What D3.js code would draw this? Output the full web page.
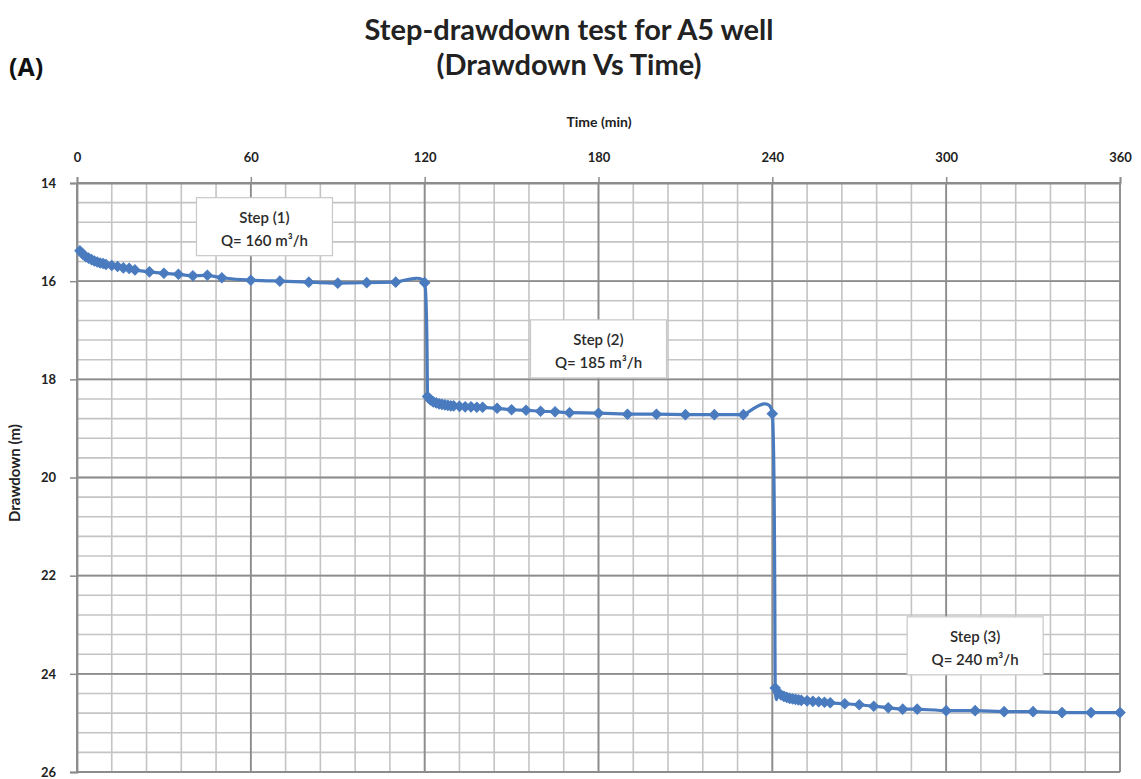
<!DOCTYPE html>
<html>
<head>
<meta charset="utf-8">
<script src="https://cdn.jsdelivr.net/npm/d3@7"></script>
<style>
  body { margin: 0; background: #fff; }
  svg text { font-family: Lato, "Open Sans", sans-serif; }
</style>
</head>
<body>
<svg id="chart" width="1141" height="779"></svg>
<script>
// times (min) and drawdown (m), one pair of arrays per step
const step1Time = [1, 2, 3, 4, 5, 6, 7, 8, 9, 10, 12, 14, 16, 18, 20, 25, 30, 35, 40, 45, 50, 60, 70, 80, 90, 100, 110, 120];
const step1Drawdown = [15.38, 15.45, 15.50, 15.53, 15.56, 15.59, 15.61, 15.63, 15.64, 15.66, 15.68, 15.70, 15.73, 15.74, 15.77, 15.81, 15.84, 15.86, 15.89, 15.88, 15.93, 15.98, 16.00, 16.02, 16.04, 16.03, 16.02, 16.03];

const step2Time = [121, 122, 123, 124, 125, 126, 127, 128, 129, 130, 132, 134, 136, 138, 140, 145, 150, 155, 160, 165, 170, 180, 190, 200, 210, 220, 230, 240];
const step2Drawdown = [18.35, 18.42, 18.46, 18.48, 18.50, 18.51, 18.52, 18.53, 18.54, 18.54, 18.55, 18.56, 18.56, 18.57, 18.57, 18.59, 18.62, 18.63, 18.65, 18.66, 18.68, 18.69, 18.71, 18.71, 18.72, 18.72, 18.72, 18.70];

const step3Time = [241, 242, 243, 244, 245, 246, 247, 248, 249, 250, 252, 254, 256, 258, 260, 265, 270, 275, 280, 285, 290, 300, 310, 320, 330, 340, 350, 360];
const step3Drawdown = [24.29, 24.38, 24.43, 24.46, 24.48, 24.50, 24.51, 24.52, 24.53, 24.54, 24.55, 24.56, 24.57, 24.58, 24.59, 24.61, 24.63, 24.66, 24.69, 24.72, 24.72, 24.75, 24.75, 24.77, 24.77, 24.79, 24.79, 24.79];

const timeTicks = [0, 60, 120, 180, 240, 300, 360];
const drawdownTicks = [14, 16, 18, 20, 22, 24, 26];

const stepNames = ['Step (1)', 'Step (2)', 'Step (3)'];
const stepRates = ['Q= 160 m³/h', 'Q= 185 m³/h', 'Q= 240 m³/h'];
// where each label box sits, in chart units (time, drawdown)
const labelTime = [64.7, 180, 310];
const labelDrawdown = [14.89, 17.38, 23.43];

const plotLeft = 77, plotRight = 1120, plotTop = 183, plotBottom = 772;
const blue = '#4a7bbf';

const svg = d3.select('#chart');

const x = d3.scaleLinear().domain([0, 360]).range([plotLeft, plotRight]);
const y = d3.scaleLinear().domain([14, 26]).range([plotTop, plotBottom]);

// build the points list from the arrays
const points = [];
[[step1Time, step1Drawdown], [step2Time, step2Drawdown], [step3Time, step3Drawdown]].forEach(function(s) {
  s[0].forEach(function(t, i) { points.push({ t: t, d: s[1][i] }); });
});

// minor grid
const minorX = d3.range(0, 361, 12);
const minorY = d3.range(14, 26.001, 0.4);
svg.append('g').selectAll('line').data(minorX).enter().append('line')
  .attr('x1', d => x(d)).attr('x2', d => x(d))
  .attr('y1', plotTop).attr('y2', plotBottom)
  .attr('stroke', '#c4c4c4').attr('stroke-width', 1.6);
svg.append('g').selectAll('line').data(minorY).enter().append('line')
  .attr('x1', plotLeft).attr('x2', plotRight)
  .attr('y1', d => y(d)).attr('y2', d => y(d))
  .attr('stroke', '#c4c4c4').attr('stroke-width', 1.6);

// major grid
svg.append('g').selectAll('line').data(timeTicks).enter().append('line')
  .attr('x1', d => x(d)).attr('x2', d => x(d))
  .attr('y1', plotTop).attr('y2', plotBottom)
  .attr('stroke', '#8c8c8c').attr('stroke-width', 1.8);
svg.append('g').selectAll('line').data(drawdownTicks).enter().append('line')
  .attr('x1', plotLeft).attr('x2', plotRight)
  .attr('y1', d => y(d)).attr('y2', d => y(d))
  .attr('stroke', '#8c8c8c').attr('stroke-width', 1.8);

// axes
const xAxis = svg.append('g')
  .attr('transform', 'translate(0,' + plotTop + ')')
  .call(d3.axisTop(x).tickValues(timeTicks).tickSize(6).tickPadding(15).tickFormat(d3.format('d')));
const yAxis = svg.append('g')
  .attr('transform', 'translate(' + plotLeft + ',0)')
  .call(d3.axisLeft(y).tickValues(drawdownTicks).tickSize(7).tickPadding(14).tickFormat(d3.format('d')));
[xAxis, yAxis].forEach(function(a) {
  a.select('.domain').attr('stroke', '#8c8c8c').attr('stroke-width', 1.8);
  a.selectAll('.tick line').attr('stroke', '#8c8c8c').attr('stroke-width', 1.5);
  a.selectAll('.tick text').attr('fill', '#222').style('font-size', '13px').style('font-weight', 700);
});

// the series, smoothed like the spreadsheet line (small bump before each jump)
const line = d3.line().x(d => x(d.t)).y(d => y(d.d)).curve(d3.curveCardinal.tension(0.5));
svg.append('path').datum(points)
  .attr('d', line)
  .attr('fill', 'none')
  .attr('stroke', blue)
  .attr('stroke-width', 3.2);
svg.append('g').selectAll('path').data(points).enter().append('path')
  .attr('transform', d => 'translate(' + x(d.t) + ',' + y(d.d) + ') rotate(45)')
  .attr('d', d3.symbol().type(d3.symbolSquare).size(52))
  .attr('fill', blue)
  .attr('stroke', blue)
  .attr('stroke-width', 1);

// step labels
stepNames.forEach(function(name, i) {
  const cx = x(labelTime[i]), cy = y(labelDrawdown[i]);
  const g = svg.append('g');
  g.append('rect')
    .attr('x', cx - 68).attr('y', cy - 29)
    .attr('width', 136).attr('height', 58)
    .attr('fill', '#fff').attr('stroke', '#c8c8c8').attr('stroke-width', 1.2);
  g.append('text').attr('x', cx).attr('y', cy - 4)
    .attr('text-anchor', 'middle').style('font-size', '15px').style('font-weight', 600)
    .attr('fill', '#2a2a2a').text(name);
  g.append('text').attr('x', cx).attr('y', cy + 19)
    .attr('text-anchor', 'middle').style('font-size', '15px').style('font-weight', 600)
    .attr('fill', '#2a2a2a').text(stepRates[i]);
});

// titles
svg.append('text').attr('x', 569).attr('y', 40)
  .attr('text-anchor', 'middle').style('font-size', '29px').style('font-weight', 700)
  .attr('fill', '#222').text('Step-drawdown test for A5 well');
svg.append('text').attr('x', 569).attr('y', 75)
  .attr('text-anchor', 'middle').style('font-size', '29px').style('font-weight', 700)
  .attr('fill', '#222').text('(Drawdown Vs Time)');
svg.append('text').attr('x', 9).attr('y', 76)
  .style('font-family', '"Open Sans", sans-serif')
  .style('font-size', '25px').style('font-weight', 700)
  .attr('fill', '#111').text('(A)');

svg.append('text').attr('x', 599).attr('y', 127)
  .attr('text-anchor', 'middle').style('font-size', '14px').style('font-weight', 700)
  .attr('fill', '#222').text('Time (min)');
svg.append('text')
  .attr('transform', 'translate(20,473) rotate(-90)')
  .attr('text-anchor', 'middle').style('font-size', '15px').style('font-weight', 700)
  .attr('fill', '#222').text('Drawdown (m)');
</script>
</body>
</html>
